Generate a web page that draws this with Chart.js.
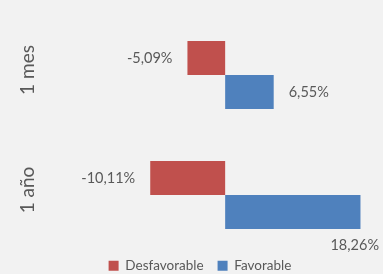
<!DOCTYPE html>
<html>
<head>
<meta charset="utf-8">
<script src="https://cdn.jsdelivr.net/npm/chart.js@4.4.0/dist/chart.umd.min.js"></script>
<style>
html,body{margin:0;padding:0;background:#f2f2f2;}
#wrap{width:383px;height:274px;position:relative;}
</style>
</head>
<body>
<div id="wrap"><canvas id="c"></canvas></div>
<script>
const categories = ["1 mes", "1 año"];
const seriesNames = ["Desfavorable", "Favorable"];
const desfavorable = [-5.09, -10.11];
const favorable = [6.55, 18.26];
const colors = ["#c0504d", "#4f81bd"];
const textColor = "#595959";
const fontFamily = "Lato, 'Open Sans', sans-serif";

function fmt(v){ return v.toFixed(2).replace('.', ',') + '%'; }

const labelPlugin = {
  id: 'labels',
  afterLayout(chart){
    const l = chart.legend;
    if (l) { l.top -= 10; l.bottom -= 10; }
  },
  afterDatasetsDraw(chart){
    const ctx = chart.ctx;
    ctx.save();
    ctx.font = "14.5px " + fontFamily;
    ctx.fillStyle = textColor;
    ctx.textBaseline = 'middle';
    chart.data.datasets.forEach((ds, di) => {
      const meta = chart.getDatasetMeta(di);
      meta.data.forEach((bar, i) => {
        const v = ds.data[i];
        const txt = fmt(v);
        const w = ctx.measureText(txt).width;
        if (v < 0) {
          ctx.textAlign = 'right';
          ctx.fillText(txt, bar.x - 15, bar.y);
        } else {
          if (bar.x + 15 + w > chart.width - 2) {
            ctx.textAlign = 'right';
            ctx.fillText(txt, chart.width - 4, bar.y + bar.height/2 + 16);
          } else {
            ctx.textAlign = 'left';
            ctx.fillText(txt, bar.x + 15, bar.y);
          }
        }
      });
    });
    const ys = chart.scales.y;
    ctx.font = "19px " + fontFamily;
    ctx.textAlign = 'center';
    categories.forEach((c, i) => {
      const y = ys.getPixelForValue(i) - 5;
      ctx.save();
      ctx.translate(28, y);
      ctx.rotate(-Math.PI/2);
      ctx.fillText(c, 0, 0);
      ctx.restore();
    });
    ctx.restore();
  }
};

new Chart(document.getElementById('c'), {
  type: 'bar',
  data: {
    labels: categories,
    datasets: [
      { label: seriesNames[0], data: desfavorable, backgroundColor: colors[0], borderWidth: 0 },
      { label: seriesNames[1], data: favorable, backgroundColor: colors[1], borderWidth: 0 }
    ]
  },
  options: {
    indexAxis: 'y',
    responsive: true,
    maintainAspectRatio: false,
    animation: false,
    datasets: { bar: { categoryPercentage: 0.567, barPercentage: 1.0 } },
    layout: { padding: { left: 17, right: 0, top: 15, bottom: -18.5 } },
    scales: {
      x: { display: false, min: -15, max: 21.3 },
      y: {
        display: true,
        ticks: { display: false },
        grid: { display: false },
        border: { display: false },
        afterFit(scale){ scale.width = 97; }
      }
    },
    plugins: {
      legend: {
        position: 'bottom',
        labels: {
          boxWidth: 10, boxHeight: 10, padding: 14,
          color: textColor,
          font: { family: fontFamily, size: 13.5 }
        }
      },
      tooltip: { enabled: false }
    }
  },
  plugins: [labelPlugin]
});
</script>
</body>
</html>
